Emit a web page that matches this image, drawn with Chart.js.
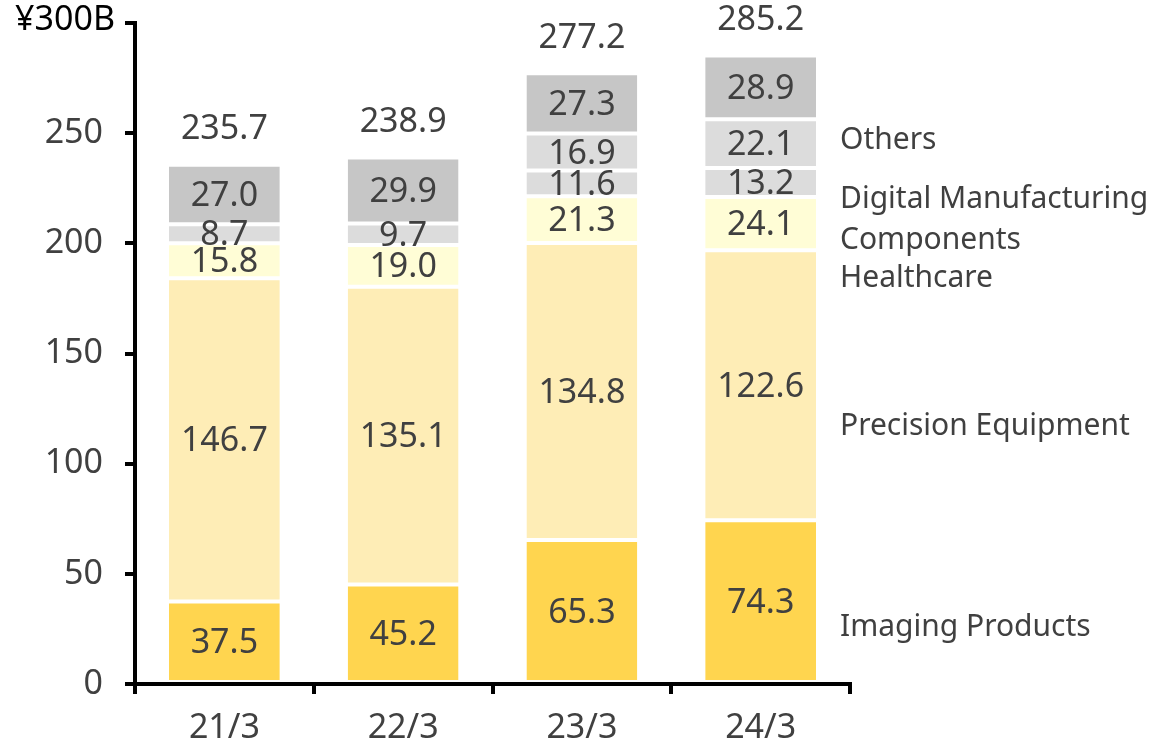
<!DOCTYPE html>
<html>
<head>
<meta charset="utf-8">
<script src="https://cdn.jsdelivr.net/npm/chart.js@4"></script>
<style>
  html, body { margin: 0; padding: 0; background: #fff; }
  #wrap { width: 1173px; height: 748px; }
</style>
</head>
<body>
<div id="wrap"><canvas id="segChart"></canvas></div>
<script>
// Revenue by segment, ¥ billions
var years = ['21/3', '22/3', '23/3', '24/3'];
var imaging = [37.5, 45.2, 65.3, 74.3];
var precision = [146.7, 135.1, 134.8, 122.6];
var healthcare = [15.8, 19.0, 21.3, 24.1];
var components = [8.7, 9.7, 11.6, 13.2];
var digitalMfg = [null, null, 16.9, 22.1];
var others = [27.0, 29.9, 27.3, 28.9];
var totals = [235.7, 238.9, 277.2, 285.2];

// where the segment names sit on the right, in axis units
var nameLevels = [26.1, 117.4, 184.5, 201.8, 220.4, 247.2];

var yTicks = [0, 50, 100, 150, 200, 250, 300];

var textGray = '#404040';
var numFont = '34px "Noto Sans"';

function seg(label, data, color) {
  return {
    label: label,
    data: data,
    backgroundColor: color,
    borderColor: '#ffffff',
    borderWidth: { top: 2, bottom: 2, left: 0, right: 0 },
    borderSkipped: false,
    barPercentage: 0.62,
    categoryPercentage: 1.0
  };
}

// numbers inside segments, totals above, names on the right
var labelPlugin = {
  id: 'segLabels',
  afterDatasetsDraw: function(chart) {
    var ctx = chart.ctx;
    var yScale = chart.scales.y;
    ctx.save();
    ctx.fillStyle = textGray;
    ctx.font = numFont;
    ctx.textAlign = 'center';
    ctx.textBaseline = 'middle';
    chart.data.datasets.forEach(function(ds, i) {
      var meta = chart.getDatasetMeta(i);
      meta.data.forEach(function(bar, j) {
        var v = ds.data[j];
        if (v == null) return;
        ctx.fillText(v.toFixed(1), bar.x, (bar.y + bar.base) / 2 + 2);
      });
    });

    var topMeta = chart.getDatasetMeta(chart.data.datasets.length - 1);
    topMeta.data.forEach(function(bar, j) {
      ctx.fillText(totals[j].toFixed(1), bar.x, yScale.getPixelForValue(totals[j]) - 35);
    });

    ctx.font = '30px "Noto Sans"';
    ctx.textAlign = 'left';
    chart.data.datasets.forEach(function(ds, i) {
      ctx.fillText(ds.label, 840, yScale.getPixelForValue(nameLevels[i]) + 1);
    });

    // top tick label carries the unit
    ctx.fillStyle = '#000000';
    ctx.font = numFont;
    ctx.textAlign = 'right';
    ctx.fillText('¥300B', 115, yScale.getPixelForValue(300) - 3);
    ctx.restore();
  }
};

var ctx = document.getElementById('segChart').getContext('2d');
var segChart = new Chart(ctx, {
  type: 'bar',
  data: {
    labels: years,
    datasets: [
      seg('Imaging Products', imaging, '#FFD54F'),
      seg('Precision Equipment', precision, '#FEEDB6'),
      seg('Healthcare', healthcare, '#FFFDD6'),
      seg('Components', components, '#DCDCDC'),
      seg('Digital Manufacturing', digitalMfg, '#DCDCDC'),
      seg('Others', others, '#C6C6C6')
    ]
  },
  options: {
    responsive: true,
    maintainAspectRatio: false,
    animation: false,
    layout: { padding: { top: 23, right: 323, bottom: 0, left: 0 } },
    plugins: {
      legend: { display: false },
      tooltip: { enabled: false }
    },
    scales: {
      x: {
        stacked: true,
        afterFit: function(s) {
          s.height = 64;
          s.paddingLeft = 0; s.paddingRight = 0;
        },
        border: { color: '#000000', width: 4 },
        grid: {
          offset: true,
          drawOnChartArea: false,
          drawTicks: true,
          tickLength: 10,
          color: '#000000',
          lineWidth: 4
        },
        ticks: {
          color: textGray,
          font: { family: 'Noto Sans', size: 34 },
          padding: 14
        }
      },
      y: {
        stacked: true,
        min: 0,
        max: 300,
        afterFit: function(s) {
          s.width = 135;
          s.paddingTop = 0; s.paddingBottom = 0;
        },
        afterBuildTicks: function(s) {
          s.ticks = yTicks.map(function(v) { return { value: v }; });
        },
        border: { color: '#000000', width: 4 },
        grid: {
          drawOnChartArea: false,
          drawTicks: true,
          tickLength: 10,
          color: '#000000',
          lineWidth: 4
        },
        ticks: {
          color: textGray,
          font: { family: 'Noto Sans', size: 34 },
          padding: 22,
          callback: function(v) { return v === 300 ? '' : v; }
        }
      }
    }
  },
  plugins: [labelPlugin]
});
</script>
</body>
</html>
